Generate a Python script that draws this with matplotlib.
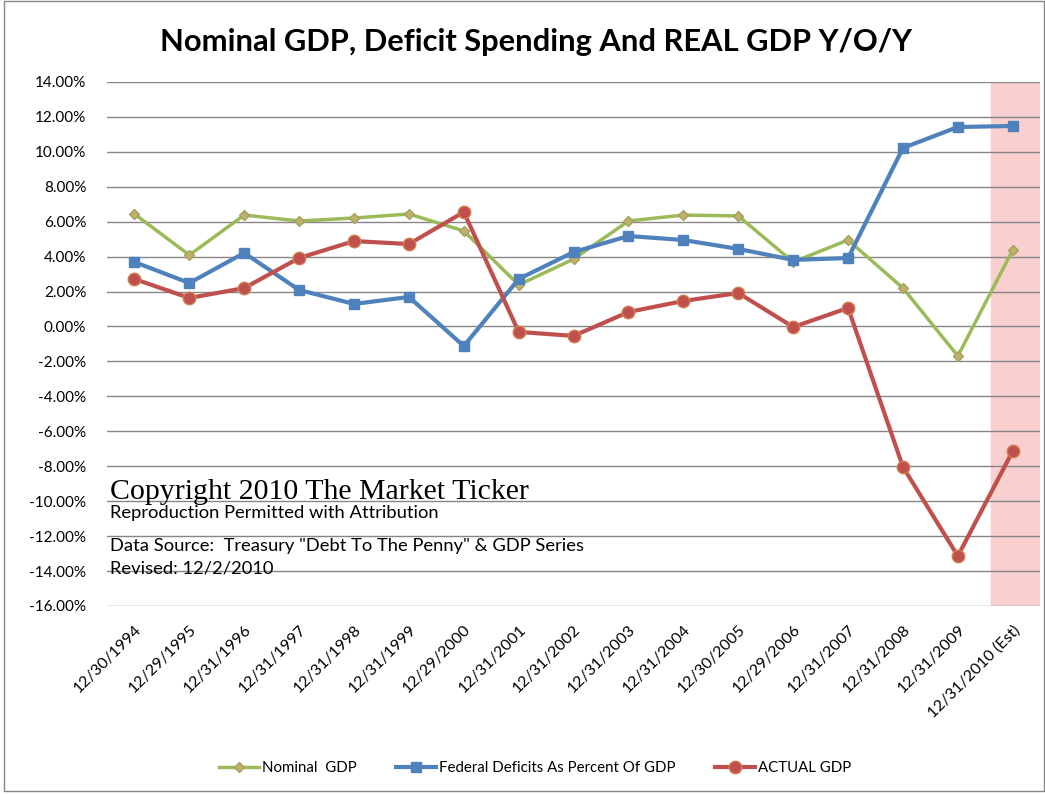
import numpy as np
import matplotlib.pyplot as plt
from matplotlib.patches import Rectangle
from matplotlib.ticker import FuncFormatter

# Дані (відсотки)
dates = ["12/30/1994", "12/29/1995", "12/31/1996", "12/31/1997", "12/31/1998",
         "12/31/1999", "12/29/2000", "12/31/2001", "12/31/2002", "12/31/2003",
         "12/31/2004", "12/30/2005", "12/29/2006", "12/31/2007", "12/31/2008",
         "12/31/2009", "12/31/2010 (Est)"]
nominal_gdp = [6.44, 4.09, 6.38, 6.04, 6.21, 6.44, 5.47, 2.38, 3.86, 6.04,
               6.38, 6.33, 3.69, 4.95, 2.20, -1.69, 4.38]
deficits = [3.69, 2.49, 4.21, 2.09, 1.29, 1.69, -1.12, 2.72, 4.26, 5.18,
            4.95, 4.44, 3.81, 3.92, 10.22, 11.42, 11.48]
actual_gdp = [2.72, 1.63, 2.20, 3.92, 4.89, 4.72, 6.55, -0.31, -0.54, 0.83,
              1.46, 1.92, -0.03, 1.06, -8.04, -13.14, -7.13]

green = "#9BBB59"
blue = "#4F81BD"
red = "#C0504D"

fig = plt.figure(figsize=(10.45, 7.94), dpi=100)
ax = fig.add_axes([0.1024, 0.2368, 0.893, 0.66])

x = np.arange(len(dates))

# Оцінка 2010 року - рожева смуга
ax.axvspan(15.6, 16.5, color="#F9CFCF", zorder=0)

ax.plot(x, nominal_gdp, color=green, linewidth=2.5, marker="D", markersize=5.5,
        markerfacecolor="#BFB06A", markeredgecolor="#A6A160", label="Nominal  GDP", zorder=3)
ax.plot(x, deficits, color=blue, linewidth=3, marker="s", markersize=7,
        markerfacecolor=blue, markeredgecolor=blue,
        label="Federal Deficits As Percent Of GDP", zorder=3)
ax.plot(x, actual_gdp, color=red, linewidth=3, marker="o", markersize=9,
        markerfacecolor=red, markeredgecolor="#D08050",
        label="ACTUAL GDP", zorder=3)

ax.set_xlim(-0.5, 16.5)
ax.set_ylim(-16, 14)
ax.set_yticks(np.arange(-16, 15, 2))
ax.yaxis.set_major_formatter(FuncFormatter(lambda v, p: f"{v:.2f}%"))
ax.grid(axis="y", color="#868686", linewidth=1)
ax.set_axisbelow(True)
for s in ax.spines.values():
    s.set_visible(False)
ax.tick_params(axis="both", length=0)
ax.tick_params(axis="y", pad=15, labelsize=11)
ax.set_xticks(x)
ax.set_xticklabels(dates, rotation=45, ha="right", rotation_mode="anchor", fontsize=11.5)
ax.tick_params(axis="x", pad=12)
for lab in ax.get_xticklabels() + ax.get_yticklabels():
    lab.set_family("Lato")

fig.text(0.513, 0.947, "Nominal GDP, Deficit Spending And REAL GDP Y/O/Y",
         fontsize=22.2, fontweight="bold", family="Lato", ha="center", va="center")

# Текст авторських прав
ax.text(0.003, 0.205, "Copyright 2010 The Market Ticker", transform=ax.transAxes,
        family="Liberation Serif", fontsize=21.5, va="baseline")
ax.text(0.003, 0.168, "Reproduction Permitted with Attribution", transform=ax.transAxes,
        fontsize=13.2, va="baseline", family="Lato")
ax.text(0.003, 0.105, "Data Source:  Treasury \"Debt To The Penny\" & GDP Series",
        transform=ax.transAxes, fontsize=13.2, va="baseline", family="Lato")
ax.text(0.003, 0.062, "Revised: 12/2/2010", transform=ax.transAxes,
        fontsize=13.2, va="baseline", family="Lato")

fig.legend(loc="center", bbox_to_anchor=(0.512, 0.033), ncol=3, frameon=False,
           handlelength=2.7, columnspacing=2.6, handletextpad=0.2,
           prop={"family": "Lato", "size": 10.8})

fig.patches.append(Rectangle((0.004, 0.004), 0.995, 0.995, transform=fig.transFigure,
                             fill=False, edgecolor="#868686", linewidth=1))

fig.savefig("out.png", dpi=100)
